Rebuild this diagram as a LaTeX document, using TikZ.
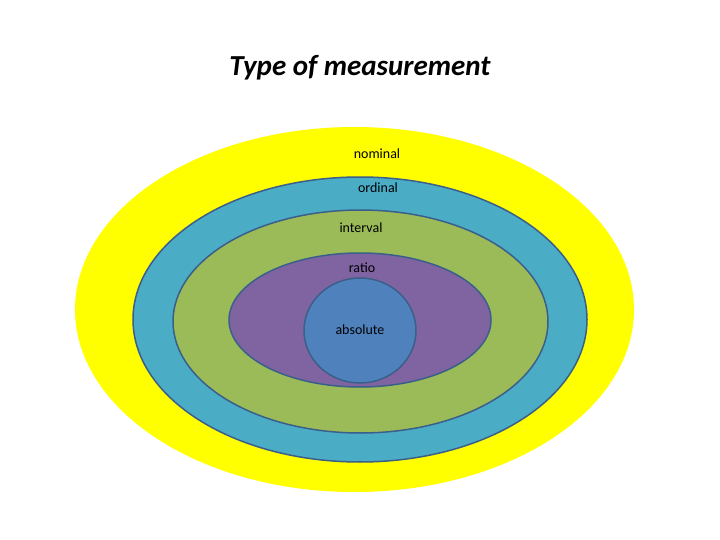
\documentclass[tikz,border=0pt]{standalone}
\usepackage{fontspec}
\setmainfont{Carlito}
\definecolor{ylw}{HTML}{FFFF00}
\definecolor{teal}{HTML}{4BACC6}
\definecolor{grn}{HTML}{9BBB59}
\definecolor{purp}{HTML}{8064A2}
\definecolor{blu}{HTML}{4F81BD}
\definecolor{edge}{HTML}{3A5F8A}
\begin{document}
\begin{tikzpicture}[x=1pt,y=-1pt,
  ring/.style={draw=edge,line width=1.5pt},
  lbl/.style={font=\fontsize{14}{16}\selectfont}]
\useasboundingbox (0,0) rectangle (720,540);
\fill[ylw] (354.5,309.5) ellipse [x radius=279.5,y radius=182.5];
\path[ring,fill=teal] (360,319.5) ellipse [x radius=227,y radius=142.5];
\path[ring,fill=grn] (360.5,321.5) ellipse [x radius=187.5,y radius=111.5];
\path[ring,fill=purp] (360,320) ellipse [x radius=131,y radius=67];
\path[ring,fill=blu] (360,330.5) ellipse [x radius=56,y radius=52.5];
\node[font=\fontsize{29}{34}\selectfont\bfseries\itshape] (title) at (360,68) {Type of measurement};
\node[lbl] (nom) at (377,154) {nominal};
\node[lbl] (ord) at (378,188) {ordinal};
\node[lbl] (int) at (361,228) {interval};
\node[lbl] (rat) at (362,268) {ratio};
\node[lbl] (abs) at (360,330) {absolute};
\end{tikzpicture}
\end{document}
